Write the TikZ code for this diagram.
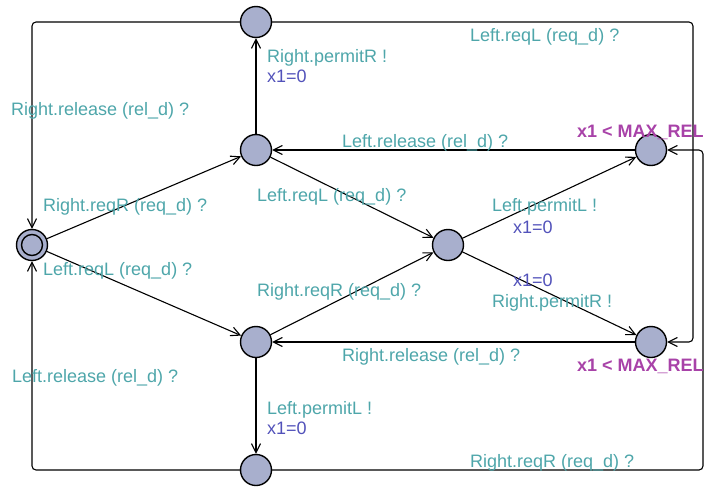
\documentclass[tikz,border=0pt]{standalone}
\usepackage{fontspec}
\setmainfont{Liberation Sans}
\usetikzlibrary{arrows.meta}
\definecolor{lblc}{RGB}{78,166,170}
\definecolor{asgc}{RGB}{82,82,186}
\definecolor{invc}{RGB}{168,66,168}
\definecolor{locc}{RGB}{168,175,205}
\begin{document}
\begin{tikzpicture}[x=1pt,y=-1pt,
  loc/.style={circle,draw=black,fill=locc,line width=1.4pt,minimum size=31pt,inner sep=0pt},
  edge/.style={draw=black,line width=1.1pt,-{Straight Barb[length=9pt,width=9pt,line width=1.1pt]},rounded corners=4pt},
  lbl/.style={anchor=base west,inner sep=0pt,text=lblc,font=\fontsize{18}{21}\selectfont},
  asg/.style={anchor=base west,inner sep=0pt,text=asgc,font=\fontsize{18}{21}\selectfont},
  inv/.style={anchor=base west,inner sep=0pt,text=invc,font=\fontsize{18}{21}\selectfont\bfseries}]
\useasboundingbox (0,0) rectangle (705,488);
% locations
\node[loc] (init) at (32,245) {};
\node[circle,draw=black,line width=1.4pt,minimum size=21pt,inner sep=0pt] (initin) at (32,245) {};
\node[loc] (A) at (256,22) {};
\node[loc] (B) at (256,150) {};
\node[loc] (C) at (448,245) {};
\node[loc] (D) at (651,150) {};
\node[loc] (E) at (651,342) {};
\node[loc] (F) at (256,342) {};
\node[loc] (G) at (256,470) {};
\coordinate (tr) at (693,22);
\coordinate (br) at (703,470);
% edges
\draw[edge] (A) -| (init);
\draw[edge] (G) -| (init);
\draw[edge] (B) -- (A);
\draw[edge] (init) -- (B);
\draw[edge] (init) -- (F);
\draw[edge] (B) -- (C);
\draw[edge] (F) -- (C);
\draw[edge] (C) -- (D);
\draw[edge] (C) -- (E);
\draw[edge] (D) -- (B);
\draw[edge] (E) -- (F);
\draw[edge] (F) -- (G);
\draw[edge] (A) -- (tr) |- (E);
\draw[edge] (G) -- (br) |- (D);
% labels
\node[lbl] (l1) at (11,115) {Right.release (rel\_d) ?};
\node[lbl] (l2) at (267,62) {Right.permitR !};
\node[asg] (a2) at (267,82) {x1=0};
\node[lbl] (l3) at (470,41) {Left.reqL (req\_d) ?};
\node[lbl] (l4) at (342,147) {Left.release (rel\_d) ?};
\node[inv] (i1) at (577,137) {x1 < MAX\_REL};
\node[lbl] (l5) at (43,211) {Right.reqR (req\_d) ?};
\node[lbl] (l6) at (257,201) {Left.reqL (req\_d) ?};
\node[lbl] (l7) at (492,211) {Left.permitL !};
\node[asg] (a7) at (513,233) {x1=0};
\node[lbl] (l8) at (43,275) {Left.reqL (req\_d) ?};
\node[lbl] (l9) at (257,296) {Right.reqR (req\_d) ?};
\node[asg] (a10) at (513,286) {x1=0};
\node[lbl] (l10) at (492,307) {Right.permitR !};
\node[lbl] (l11) at (342,361) {Right.release (rel\_d) ?};
\node[inv] (i2) at (577,371) {x1 < MAX\_REL};
\node[lbl] (l12) at (12,382) {Left.release (rel\_d) ?};
\node[lbl] (l13) at (267,414) {Left.permitL !};
\node[asg] (a13) at (267,434) {x1=0};
\node[lbl] (l14) at (470,467) {Right.reqR (req\_d) ?};
\end{tikzpicture}
\end{document}
